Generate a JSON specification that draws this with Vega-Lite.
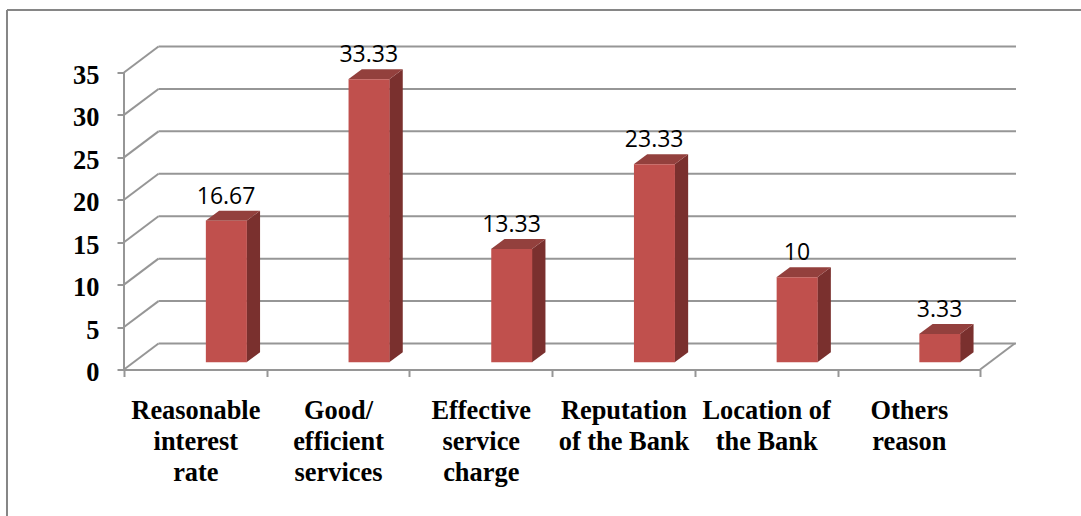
{
  "$schema": "https://vega.github.io/schema/vega-lite/v6.json",
  "width": 892,
  "height": 323,
  "autosize": {"type": "none"},
  "padding": {"left": 124, "top": 46.5, "right": 65, "bottom": 146.5},
  "background": "white",
  "config": {"view": {"stroke": null}},
  "datasets": {
    "bars": [
      {"category": "Reasonable\ninterest\nrate", "value": 16.67},
      {"category": "Good/\nefficient\nservices", "value": 33.33},
      {"category": "Effective\nservice\ncharge", "value": 13.33},
      {"category": "Reputation\nof the Bank", "value": 23.33},
      {"category": "Location of\nthe Bank", "value": 10},
      {"category": "Others\nreason", "value": 3.33}
    ],
    "levels": [
      {"level": 0}, {"level": 5}, {"level": 10}, {"level": 15},
      {"level": 20}, {"level": 25}, {"level": 30}, {"level": 35}
    ]
  },
  "resolve": {"scale": {"x": "independent"}, "axis": {"x": "independent", "y": "independent"}},
  "layer": [
    {
      "layer": [
        {
          "data": {"name": "levels"},
          "transform": [{"calculate": "datum.level + 3.06", "as": "back"}],
          "mark": {"type": "rule", "color": "#969696", "strokeWidth": 2},
          "encoding": {
            "x": {"datum": 0.2418, "type": "quantitative", "scale": {"domain": [0, 6.251], "nice": false, "zero": false}, "axis": null},
            "x2": {"datum": 6.251},
            "y": {
              "field": "back",
              "type": "quantitative",
              "scale": {"domain": [0, 38.06], "nice": false, "zero": false},
              "axis": null
            }
          }
        },
        {
          "data": {"name": "levels"},
          "transform": [{"calculate": "datum.level + 3.06", "as": "back"}],
          "mark": {"type": "rule", "color": "#969696", "strokeWidth": 2},
          "encoding": {
            "x": {"datum": 0, "type": "quantitative", "axis": null},
            "x2": {"datum": 0.2418},
            "y": {"field": "level", "type": "quantitative", "axis": null},
            "y2": {"field": "back"}
          }
        },
        {
          "mark": {"type": "rule", "color": "#969696", "strokeWidth": 2},
          "data": {"values": [{}]},
          "encoding": {
            "x": {"datum": 0, "type": "quantitative", "axis": null},
            "y": {"datum": 0, "type": "quantitative", "axis": null},
            "y2": {"datum": 35}
          }
        },
        {
          "mark": {"type": "rule", "color": "#969696", "strokeWidth": 2},
          "data": {"values": [{}]},
          "encoding": {
            "x": {"datum": 6, "type": "quantitative", "axis": null},
            "x2": {"datum": 6.2418},
            "y": {"datum": 0, "type": "quantitative", "axis": null},
            "y2": {"datum": 3.06}
          }
        },
        {
          "mark": {"type": "rule", "color": "#868686", "strokeWidth": 2},
          "data": {"values": [{}]},
          "encoding": {
            "x": {"datum": -0.82, "type": "quantitative", "axis": null},
            "y": {"datum": 42.36, "type": "quantitative", "axis": null},
            "y2": {"datum": -17.3}
          }
        },
        {
          "mark": {"type": "rule", "color": "#868686", "strokeWidth": 2},
          "data": {"values": [{}]},
          "encoding": {
            "x": {"datum": -0.82, "type": "quantitative", "axis": null},
            "x2": {"datum": 6.76},
            "y": {"datum": 42.36, "type": "quantitative", "axis": null}
          }
        },
        {
          "data": {"name": "bars"},
          "transform": [
            {"window": [{"op": "row_number", "as": "n"}]},
            {"calculate": "[0, 1]", "as": "k"},
            {"flatten": ["k"]},
            {"calculate": "datum.n - 1 + 0.859 + datum.k * 0.0945", "as": "px"},
            {"calculate": "datum.value + 0.86 + datum.k * 1.18", "as": "top"},
            {"calculate": "0.86 + datum.k * 1.18", "as": "bottom"}
          ],
          "mark": {"type": "area", "color": "#7A302E", "opacity": 1, "interpolate": "linear"},
          "encoding": {
            "x": {"field": "px", "type": "quantitative", "axis": null},
            "y": {"field": "top", "type": "quantitative", "stack": null, "axis": null},
            "y2": {"field": "bottom"},
            "detail": {"field": "category"}
          }
        },
        {
          "data": {"name": "bars"},
          "transform": [
            {"window": [{"op": "row_number", "as": "n"}]},
            {"calculate": "[0, 0.0945, 0.287, 0.3815]", "as": "dx"},
            {"calculate": "[0, 1.18, 1.18, 1.18]", "as": "dt"},
            {"calculate": "[0, 0, 0, 1.18]", "as": "db"},
            {"flatten": ["dx", "dt", "db"]},
            {"calculate": "datum.n - 1 + 0.572 + datum.dx", "as": "px"},
            {"calculate": "datum.value + 0.86 + datum.dt", "as": "top"},
            {"calculate": "datum.value + 0.86 + datum.db", "as": "bottom"}
          ],
          "mark": {"type": "area", "color": "#93403D", "opacity": 1, "interpolate": "linear"},
          "encoding": {
            "x": {"field": "px", "type": "quantitative", "axis": null},
            "y": {"field": "top", "type": "quantitative", "stack": null, "axis": null},
            "y2": {"field": "bottom"},
            "detail": {"field": "category"}
          }
        },
        {
          "data": {"name": "bars"},
          "transform": [
            {"window": [{"op": "row_number", "as": "n"}]},
            {"calculate": "datum.n - 1 + 0.7155", "as": "px"},
            {"calculate": "datum.value + 0.86", "as": "top"}
          ],
          "mark": {"type": "text", "font": "Open Sans", "fontSize": 23, "color": "#000000", "align": "center", "baseline": "alphabetic", "dy": -17},
          "encoding": {
            "x": {"field": "px", "type": "quantitative", "axis": null},
            "y": {"field": "top", "type": "quantitative", "axis": null},
            "text": {"field": "value", "type": "quantitative"}
          }
        }
      ]
    },
    {
      "data": {"name": "bars"},
      "transform": [{"calculate": "datum.value + 0.86", "as": "top"}],
      "mark": {"type": "bar", "color": "#C0504D", "size": 41, "xOffset": 31},
      "encoding": {
        "x": {
          "field": "category",
          "type": "nominal",
          "sort": null,
          "scale": {
            "type": "band",
            "domain": [
              "Reasonable\ninterest\nrate",
              "Good/\nefficient\nservices",
              "Effective\nservice\ncharge",
              "Reputation\nof the Bank",
              "Location of\nthe Bank",
              "Others\nreason"
            ],
            "range": [0, 856.2],
            "paddingInner": 0,
            "paddingOuter": 0
          },
          "axis": {
            "orient": "bottom",
            "title": null,
            "grid": false,
            "domain": true,
            "domainColor": "#969696",
            "domainWidth": 2,
            "ticks": true,
            "tickBand": "extent",
            "tickSize": 7,
            "tickWidth": 2,
            "tickColor": "#969696",
            "labelAngle": 0,
            "labelAlign": "center",
            "labelBaseline": "top",
            "labelFont": "Liberation Serif",
            "labelFontWeight": "bold",
            "labelFontSize": 26.4,
            "labelLineHeight": 31,
            "labelColor": "#000000",
            "labelPadding": 21,
            "labelLimit": 0,
            "labelOverlap": false,
            "labelExpr": "split(datum.label, '\\n')"
          }
        },
        "y": {
          "field": "top",
          "type": "quantitative",
          "stack": null,
          "axis": {
            "values": [0, 5, 10, 15, 20, 25, 30, 35],
            "title": null,
            "grid": false,
            "domain": false,
            "ticks": true,
            "tickSize": 7,
            "tickWidth": 2,
            "tickColor": "#969696",
            "labelFont": "Liberation Serif",
            "labelFontWeight": "bold",
            "labelFontSize": 26.4,
            "labelColor": "#000000",
            "labelPadding": 18,
            "labelOffset": 3,
            "labelOverlap": false,
            "labelFlush": false,
            "labelBound": false
          }
        },
        "y2": {"datum": 0.86}
      }
    }
  ]
}
